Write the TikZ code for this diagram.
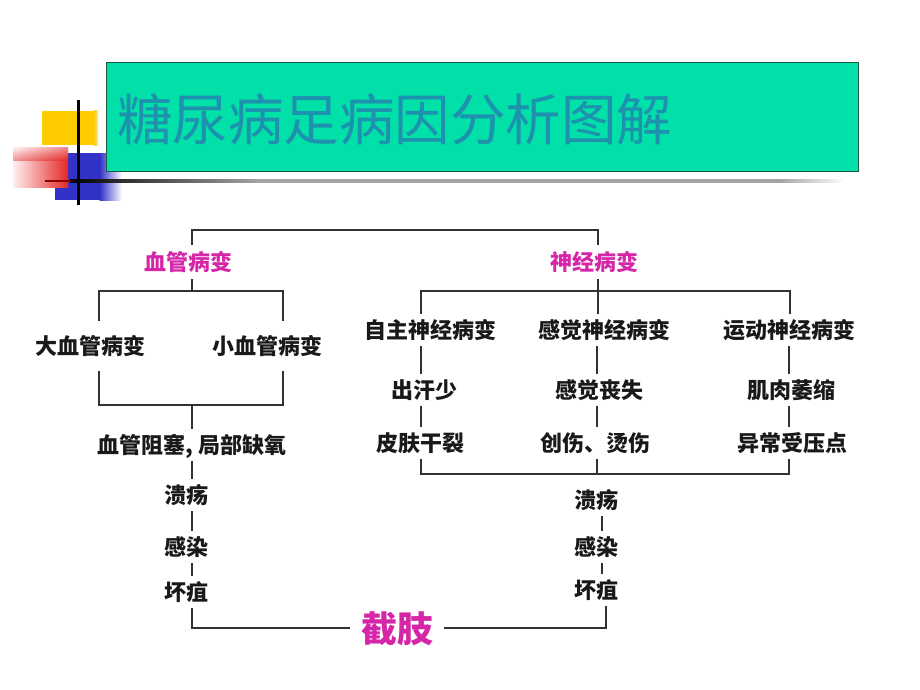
\documentclass[tikz,border=0pt]{standalone}
\usepackage{fontspec}
\newfontfamily\cjk{Noto Sans CJK SC}
\definecolor{mag}{RGB}{214,38,168}
\definecolor{boxfill}{RGB}{0,224,168}
\definecolor{boxline}{RGB}{30,90,70}
\definecolor{titletext}{RGB}{30,145,175}
\definecolor{decoyellow}{RGB}{255,204,0}
\definecolor{decoblue}{RGB}{50,50,200}
\definecolor{decored}{RGB}{228,40,40}
\definecolor{linegray}{RGB}{50,50,50}
\definecolor{shadowgray}{RGB}{165,165,165}
\tikzset{
  body/.style={font=\cjk\bfseries\fontsize{22}{22}\selectfont, inner sep=0pt,
    text height=19pt, text depth=3pt, outer ysep=5pt, outer xsep=0pt, text=black!90},
  head/.style={body, text=mag},
  big/.style={font=\cjk\bfseries\fontsize{36}{36}\selectfont, inner sep=0pt,
    text height=31pt, text depth=5pt, outer xsep=11pt, text=mag},
  titletxt/.style={font=\cjk\fontsize{55.5}{55.5}\selectfont, inner sep=0pt,
    text height=47pt, text depth=8pt, text=titletext, anchor=west},
  conn/.style={draw=linegray, line width=1.3pt}
}
\begin{document}
\begin{tikzpicture}[x=1pt,y=-1pt]
\useasboundingbox (0,0) rectangle (920,690);
\fill[white] (0,0) rectangle (920,690);
% decoration
\fill[decoyellow] (42,111) rectangle (94,145);
\shade[left color=decoyellow, right color=decoyellow!40] (93.5,111) rectangle (98,145);
\fill[decoblue] (55,153) rectangle (100,200);
\shade[left color=decoblue, right color=white] (99.5,153) rectangle (122,200);
\shade[left color=red!6, right color=decored] (13,147) rectangle (68,187);
\shade[top color=white, bottom color=decored, opacity=0.45] (13,147) rectangle (68,160);
\shade[left color=black, right color=shadowgray] (70,179.5) rectangle (260,182);
\shade[left color=shadowgray, right color=shadowgray] (259.5,179.5) rectangle (780,182);
\shade[left color=shadowgray, right color=white] (779.5,179.5) rectangle (845,182);
\fill[red!55!black] (45,179.5) rectangle (71,182);
\fill[black] (76.5,100) rectangle (79.5,205);
% title box
\draw[boxline, fill=boxfill, line width=1pt] (106,63) rectangle (858,171);
\node[titletxt] (tt) at (117,121) {糖尿病足病因分析图解};
% coordinates
\coordinate (tL) at (192,230); \coordinate (tR) at (598,230);
\coordinate (vL) at (99,291); \coordinate (vM) at (192,291); \coordinate (vR) at (283,291);
\coordinate (wL) at (99,405); \coordinate (wM) at (192,405); \coordinate (wR) at (283,405);
\coordinate (nL) at (421,291); \coordinate (nM) at (598,291); \coordinate (nR) at (790,291);
\coordinate (xA) at (421,0); \coordinate (xB) at (597,0); \coordinate (xC) at (789,0);
\coordinate (mL) at (421,474); \coordinate (mM) at (597,474); \coordinate (mR) at (789,474);
\coordinate (kR) at (602,0);
\coordinate (eL) at (192,628); \coordinate (eR) at (606,628);
% nodes
\node[head, outer ysep=6pt] (xg) at (188,262) {血管病变};
\node[head, outer ysep=6pt] (sj) at (594,262) {神经病变};
\node[body, outer ysep=14pt] (dx) at (90,346) {大血管病变};
\node[body, outer ysep=14pt] (xx) at (267,346) {小血管病变};
\node[body] (zs) at (192,445) {血管阻塞, 局部缺氧};
\node[body] (l1) at (186,495) {溃疡};
\node[body] (l2) at (186,547) {感染};
\node[body] (l3) at (186,592) {坏疽};
\node[body] (a1) at (430,330) {自主神经病变};
\node[body] (b1) at (604,330) {感觉神经病变};
\node[body] (c1) at (789,330) {运动神经病变};
\node[body] (a2) at (424,390) {出汗少};
\node[body] (b2) at (599,390) {感觉丧失};
\node[body] (c2) at (791,390) {肌肉萎缩};
\node[body] (a3) at (420,443) {皮肤干裂};
\node[body] (b3) at (595,443) {创伤、烫伤};
\node[body] (c3) at (792,443) {异常受压点};
\node[body] (r1) at (596,500) {溃疡};
\node[body] (r2) at (596,547) {感染};
\node[body] (r3) at (596,590) {坏疽};
\node[big] (jz) at (397,629) {截肢};
% connectors
\draw[conn] (xg.north -| tL) -- (tL) -- (tR) -- (sj.north -| tR);
\draw[conn] (xg.south -| vM) -- (vM);
\draw[conn] (dx.north -| vL) -- (vL) -- (vR) -- (xx.north -| vR);
\draw[conn] (dx.south -| wL) -- (wL) -- (wR) -- (xx.south -| wR);
\draw[conn] (wM) -- (zs.north -| wM);
\draw[conn] (zs.south -| wM) -- (l1.north -| wM);
\draw[conn] (l1.south -| wM) -- (l2.north -| wM);
\draw[conn] (l2.south -| wM) -- (l3.north -| wM);
\draw[conn] (l3.south -| eL) -- (eL) -- (eL -| jz.west);
\draw[conn] (jz.east |- eR) -- (eR) -- (r3.south -| eR);
\draw[conn] (sj.south -| nM) -- (b1.north -| nM);
\draw[conn] (a1.north -| nL) -- (nL) -- (nR) -- (c1.north -| nR);
\draw[conn] (a1.south -| xA) -- (a2.north -| xA);
\draw[conn] (b1.south -| xB) -- (b2.north -| xB);
\draw[conn] (c1.south -| xC) -- (c2.north -| xC);
\draw[conn] (a2.south -| xA) -- (a3.north -| xA);
\draw[conn] (b2.south -| xB) -- (b3.north -| xB);
\draw[conn] (c2.south -| xC) -- (c3.north -| xC);
\draw[conn] (a3.south -| mL) -- (mL) -- (mR) -- (c3.south -| mR);
\draw[conn] (b3.south -| mM) -- (mM);
\draw[conn] (r1.south -| kR) -- (r2.north -| kR);
\draw[conn] (r2.south -| kR) -- (r3.north -| kR);
\end{tikzpicture}
\end{document}
